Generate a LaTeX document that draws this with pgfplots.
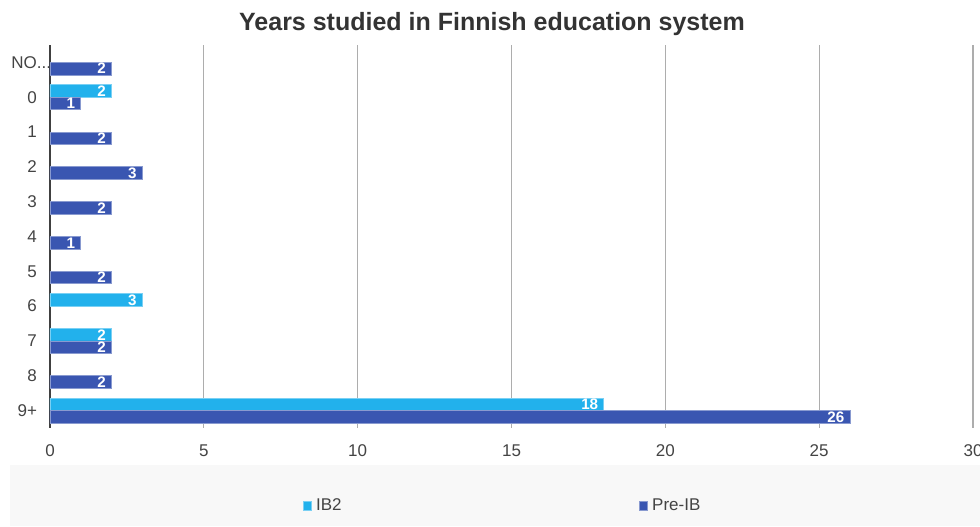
\documentclass[border=0pt]{standalone}
\usepackage{pgfplots}
\pgfplotsset{compat=1.18}
\usepackage{fontspec}
\setmainfont{Liberation Sans}
\definecolor{ibtwo}{HTML}{22B1EC}
\definecolor{preib}{HTML}{3A56B1}
\definecolor{txt}{HTML}{444444}
\definecolor{legbg}{HTML}{F8F8F8}
\begin{document}
\begin{tikzpicture}
\useasboundingbox (0,0) rectangle (490pt,263pt);
\fill[white] (0,0) rectangle (490pt,263pt);
\fill[legbg] (5pt,0) rectangle (490pt,30.5pt);
\node[anchor=base, font=\bfseries\fontsize{12.5}{14}\selectfont, text=black!80] at (246pt,247.6pt) {Years studied in Finnish education system};
\begin{axis}[
  at={(25pt,49pt)}, anchor=south west,
  scale only axis, width=461.5pt, height=191.5pt,
  xbar, bar width=0.36,
  xmin=0, xmax=30, ymin=-0.5, ymax=10.5, y dir=reverse,
  xtick={0,5,10,15,20,25,30}, ytick={0,1,2,3,4,5,6,7,8,9,10},
  yticklabels={{NO\rlap{.{}.{}.}},0,1,2,3,4,5,6,7,8,9+},
  major tick length=0pt,
  xmajorgrids, grid style={draw=black!32, line width=0.6pt},
  axis x line*=bottom, axis y line*=left,
  x axis line style={draw=none},
  y axis line style={-, draw=black!75, line width=1.1pt},
  tick label style={font=\fontsize{8.5}{10}\selectfont, text=txt},
  /pgf/number format/assume math mode=true,
  xticklabel style={yshift=-5pt},
  yticklabel style={xshift=-3pt},
  nodes near coords,
  every node near coord/.append style={anchor=east, font=\bfseries\fontsize{7.6}{8}\selectfont, text=white, inner xsep=2.6pt, inner ysep=0pt},
  legend columns=2,
  legend style={at={(0.4913,-0.2037)}, anchor=center, draw=none, fill=none,
    font=\fontsize{8.5}{10}\selectfont, text=txt,
    /tikz/every even column/.append style={column sep=146.5pt}},
  legend image code/.code={\fill[#1] (0pt,-2.2pt) rectangle (4.4pt,2.2pt);},
]
\addplot[fill=ibtwo, draw=ibtwo!60!white, line width=0.4pt, bar shift=-0.18] coordinates {
  (2,1) (3,7) (2,8) (18,10)
};
\addlegendentry{IB2}
\addplot[fill=preib, draw=preib!60!white, line width=0.4pt, bar shift=0.18] coordinates {
  (2,0) (1,1) (2,2) (3,3) (2,4) (1,5) (2,6) (2,8) (2,9) (26,10)
};
\addlegendentry{Pre-IB}
\end{axis}
\end{tikzpicture}
\end{document}
